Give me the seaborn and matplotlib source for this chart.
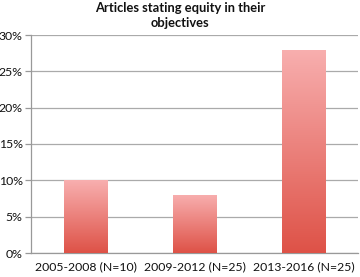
import numpy as np
import pandas as pd
import matplotlib
matplotlib.use("Agg")
import matplotlib.pyplot as plt
import seaborn as sns
from matplotlib.colors import LinearSegmentedColormap
from matplotlib.ticker import FuncFormatter, FixedLocator

# data
periods = ["2005-2008 (N=10)", "2009-2012 (N=25)", "2013-2016 (N=25)"]
shares = [10, 8, 28]
yticks = [0, 5, 10, 15, 20, 25, 30]

df = pd.DataFrame({"period": periods, "share": shares})

sns.set_style("white")
plt.rcParams["font.family"] = ["Lato", "DejaVu Sans"]

fig = plt.figure(figsize=(3.6, 2.77), dpi=100)
ax = fig.add_axes([31 / 360, 24 / 277, 327 / 360, 218 / 277])

sns.barplot(data=df, x="period", y="share", color="#E8706A", width=0.4,
            ax=ax, zorder=3)

# gradient fill for each bar (light pink top -> red bottom)
cmap = LinearSegmentedColormap.from_list("bar", ["#DE5247", "#F8AFAF"])
grad = np.linspace(0, 1, 256).reshape(-1, 1)
for p in ax.patches:
    x0, y0 = p.get_x(), p.get_y()
    w, h = p.get_width(), p.get_height()
    im = ax.imshow(grad, cmap=cmap, aspect="auto", origin="lower",
                   extent=[x0, x0 + w, y0, y0 + h], zorder=3)
    im.set_clip_path(p)
    p.set_facecolor("none")
    p.set_edgecolor("none")

ax.set_xlim(-0.5, 2.5)
ax.set_ylim(0, 30)
ax.yaxis.set_major_locator(FixedLocator(yticks))
ax.yaxis.set_major_formatter(FuncFormatter(lambda v, _: f"{v:.0f}%"))
ax.grid(axis="y", color="#AAAAAA", linewidth=0.9, zorder=0)
ax.set_axisbelow(True)

for s in ["top", "right"]:
    ax.spines[s].set_visible(False)
for s in ["left", "bottom"]:
    ax.spines[s].set_color("#999999")
    ax.spines[s].set_linewidth(0.9)

# category ticks sit between groups
ax.set_xticks([-0.5, 0.5, 1.5, 2.5], minor=False)
ax.set_xticklabels([])
ax.set_xticks([0, 1, 2], minor=True)
ax.set_xticklabels(periods, minor=True)
ax.tick_params(axis="x", which="major", length=4, color="#999999", width=0.9)
ax.tick_params(axis="x", which="minor", length=0, pad=6, labelsize=8.8,
               labelcolor="#111111")
ax.tick_params(axis="y", length=4, color="#999999", width=0.9, pad=2,
               labelsize=8.8, left=True, labelcolor="#111111")

ax.set_xlabel("")
ax.set_ylabel("")
fig.text(0.5, 0.992, "Articles stating equity in their\nobjectives",
         ha="center", va="top", fontsize=9.3, fontweight="bold",
         linespacing=1.25, color="#111111")

fig.savefig("out.png", dpi=100)
